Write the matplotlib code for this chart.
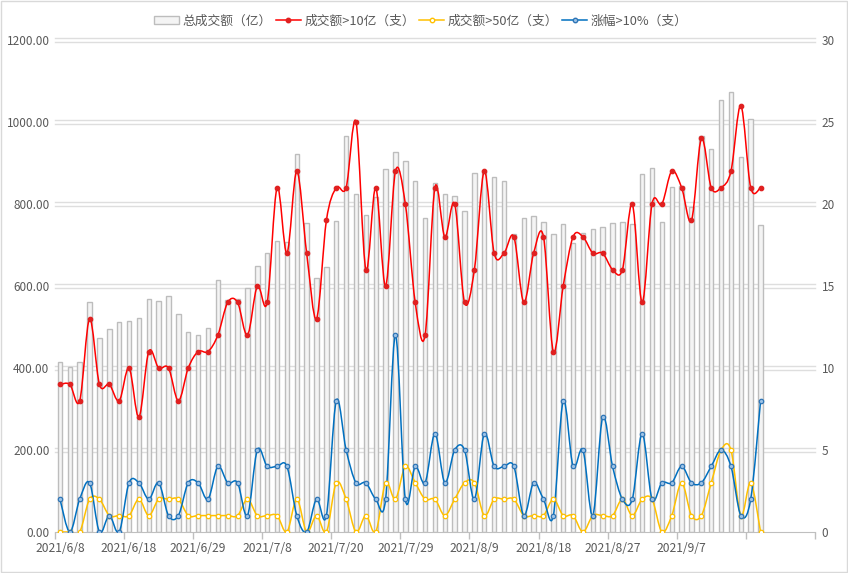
import numpy as np
import matplotlib
matplotlib.use('Agg')
import matplotlib.pyplot as plt
import matplotlib.transforms as mtransforms
from matplotlib.path import Path
from matplotlib.patches import PathPatch, Rectangle
from matplotlib.lines import Line2D

plt.rcParams['font.family'] = ['Noto Sans CJK SC', 'DejaVu Sans']

# x labels, one every 7 trading days (72 trading days shown, axis has 77 slots)
tick_labels = ['2021/6/8', '2021/6/18', '2021/6/29', '2021/7/8', '2021/7/20',
               '2021/7/29', '2021/8/9', '2021/8/18', '2021/8/27', '2021/9/7']
n_slots = 77

# 总成交额（亿）
total_amount = [415, 402, 415, 561, 474, 496, 512, 515, 523, 569, 563, 576,
                532, 488, 481, 498, 614, 565, 569, 596, 648, 681, 710, 707,
                921, 753, 619, 647, 759, 965, 824, 772, 818, 885, 928, 906,
                855, 767, 850, 824, 819, 782, 875, 880, 865, 855, 728, 767,
                770, 755, 728, 750, 706, 730, 740, 743, 753, 755, 750, 872,
                887, 755, 841, 845, 793, 967, 934, 1053, 1072, 914, 1007, 748]
# 成交额>10亿（支）
over_10 = [9, 9, 8, 13, 9, 9, 8, 10, 7, 11, 10, 10,
           8, 10, 11, 11, 12, 14, 14, 12, 15, 14, 21, 17,
           22, 17, 13, 19, 21, 21, 25, 16, 21, 15, 22, 20,
           14, 12, 21, 18, 20, 14, 16, 22, 17, 17, 18, 14,
           17, 18, 11, 15, 18, 18, 17, 17, 16, 16, 20, 14,
           20, 20, 22, 21, 19, 24, 21, 21, 22, 26, 21, 21]
# 成交额>50亿（支）
over_50 = [0, 0, 0, 2, 2, 1, 1, 1, 2, 1, 2, 2,
           2, 1, 1, 1, 1, 1, 1, 2, 1, 1, 1, 0,
           2, 0, 1, 0, 3, 2, 0, 1, 0, 3, 2, 4,
           3, 2, 2, 1, 2, 3, 3, 1, 2, 2, 2, 1,
           1, 1, 2, 1, 1, 0, 1, 1, 1, 2, 1, 2,
           2, 0, 1, 3, 1, 1, 3, 5, 5, 1, 3, 0]
# 涨幅>10%（支）
rise_10 = [2, 0, 2, 3, 0, 1, 0, 3, 3, 2, 3, 1,
           1, 3, 3, 2, 4, 3, 3, 1, 5, 4, 4, 4,
           1, 0, 2, 1, 8, 5, 3, 3, 2, 2, 12, 2,
           4, 3, 6, 3, 5, 5, 2, 6, 4, 4, 4, 1,
           3, 2, 1, 8, 4, 5, 1, 7, 4, 2, 2, 6,
           2, 3, 3, 4, 3, 3, 4, 5, 4, 1, 2, 8]


def smooth_path(x, y):
    # excel style smoothed line: cubic bezier through every point
    x = np.asarray(x, float)
    y = np.asarray(y, float)
    px = np.concatenate([[x[0]], x, [x[-1]]])
    py = np.concatenate([[y[0]], y, [y[-1]]])
    verts = [(x[0], y[0])]
    codes = [Path.MOVETO]
    for k in range(1, len(x)):
        c1 = (px[k] + (px[k + 1] - px[k - 1]) / 6, py[k] + (py[k + 1] - py[k - 1]) / 6)
        c2 = (px[k + 1] - (px[k + 2] - px[k]) / 6, py[k + 1] - (py[k + 2] - py[k]) / 6)
        verts += [c1, c2, (px[k + 1], py[k + 1])]
        codes += [Path.CURVE4] * 3
    return Path(verts, codes)


fig = plt.figure(figsize=(8.48, 5.73), dpi=100)
ax = fig.add_axes([0.0649, 0.0716, 0.896, 0.8586])
ax2 = ax.twinx()

x = np.arange(len(total_amount))
ax.bar(x, total_amount, width=0.45, color='#F4F4F4', edgecolor='#BDBDBD', linewidth=1.0, zorder=2)

ax.set_xlim(-0.5, n_slots - 0.5)
ax.set_ylim(0, 1200)
ax2.set_ylim(0, 30)

# double gridlines
grid_col = '#DEDEDE'
for v in range(200, 1201, 200):
    for dy in (-1.25, 1.25):
        tr = mtransforms.offset_copy(ax.get_yaxis_transform(), fig=fig, y=dy, units='points')
        ax.plot([0, 1], [v, v], transform=tr, color=grid_col, lw=1.0, zorder=0, clip_on=False)

series = [
    (over_10, '#FF0000', '#E02020', '#E02020', '成交额>10亿（支）'),
    (over_50, '#FFC000', '#FFFFFF', '#FFC000', '成交额>50亿（支）'),
    (rise_10, '#0070C0', '#9DC3E6', '#2E75B6', '涨幅>10%（支）'),
]
for vals, col, mfc, mec, name in series:
    ax2.add_patch(PathPatch(smooth_path(x, vals), fill=False, edgecolor=col, lw=1.1, zorder=3))
    ax2.plot(x, vals, ls='none', marker='o', ms=3.2, mfc=mfc, mec=mec, mew=0.9, zorder=4)

# axes styling
for a in (ax, ax2):
    for s in ('left', 'right', 'top'):
        a.spines[s].set_visible(False)
ax.spines['bottom'].set_color('#BFBFBF')
ax2.spines['bottom'].set_visible(False)

ax.set_yticks(range(0, 1201, 200))
ax.set_yticklabels(['%.2f' % v for v in range(0, 1201, 200)])
ax2.set_yticks(range(0, 31, 5))
ax.tick_params(axis='y', length=0, labelsize=8.5, labelcolor='#595959', pad=4)
ax2.tick_params(axis='y', length=0, labelsize=8.5, labelcolor='#595959', pad=5)

ax.set_xticks(np.arange(len(tick_labels)) * 7)
ax.set_xticklabels(tick_labels)
ax.set_xticks(np.arange(-0.5, n_slots, 7), minor=True)
ax.tick_params(axis='x', which='major', length=0, labelsize=8.7, labelcolor='#595959', pad=7)
ax.tick_params(axis='x', which='minor', length=5, color='#BFBFBF', width=1)

handles = [
    Rectangle((0, 0), 1, 1, facecolor='#F4F4F4', edgecolor='#BDBDBD', linewidth=1.0),
    Line2D([], [], color='#FF0000', lw=1.1, marker='o', ms=3.2, mfc='#E02020', mec='#E02020'),
    Line2D([], [], color='#FFC000', lw=1.1, marker='o', ms=3.2, mfc='#FFFFFF', mec='#FFC000'),
    Line2D([], [], color='#0070C0', lw=1.1, marker='o', ms=3.2, mfc='#9DC3E6', mec='#2E75B6'),
]
names = ['总成交额（亿）'] + [s[4] for s in series]
fig.legend(handles, names, loc='upper center', bbox_to_anchor=(0.496, 0.995), ncol=4,
           frameon=False, fontsize=9.2, labelcolor='#595959', handlelength=2.0,
           handleheight=0.6, handletextpad=0.25, columnspacing=0.3)

fig.patches.append(Rectangle((0.0006, 0.0009), 0.9988, 0.9982, transform=fig.transFigure,
                             fill=False, edgecolor='#D9D9D9', linewidth=1.0))

fig.savefig('out.png', dpi=100)
